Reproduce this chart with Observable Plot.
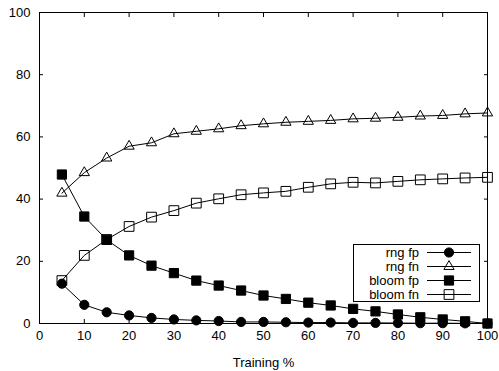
<!DOCTYPE html>
<html><head><meta charset="utf-8">
<script src="https://cdn.jsdelivr.net/npm/d3@7"></script>
<script src="https://cdn.jsdelivr.net/npm/@observablehq/plot@0.6"></script>
<style>
body{margin:0;background:#fff}
#chart{position:relative;width:499px;height:371px}
</style>
</head><body><div id="chart"></div>
<script>
const training = [5,10,15,20,25,30,35,40,45,50,55,60,65,70,75,80,85,90,95,100];
const rngFp   = [12.8,6.0,3.6,2.6,1.8,1.3,1.0,0.8,0.5,0.5,0.4,0.3,0.3,0.2,0.2,0.15,0.1,0.1,0.05,0];
const rngFn   = [41.9,48.5,53.2,57.0,58.1,61.0,61.8,62.6,63.6,64.2,64.7,65.0,65.3,65.8,66.0,66.3,66.7,66.9,67.4,67.7];
const bloomFp = [47.9,34.4,26.9,21.9,18.6,16.2,13.8,12.2,10.6,9.0,7.9,6.7,5.8,4.7,3.9,2.9,2.0,1.3,0.7,0];
const bloomFn = [13.8,21.9,27.0,31.2,34.2,36.3,38.7,40.1,41.4,42.0,42.5,43.8,44.9,45.4,45.2,45.7,46.2,46.5,46.8,47.0];
const seriesNames = ["rng fp","rng fn","bloom fp","bloom fn"];
const xTicks = [0,10,20,30,40,50,60,70,80,90,100];
const yTicks = [0,20,40,60,80,100];
const xLabel = "Training %";

const FONT = "'Liberation Sans', Arial, Helvetica, sans-serif";
const styles = [
  {symbol:"circle",   r:4.6, fill:"black", stroke:"black"},
  {symbol:"triangle", r:3.8, fill:"none",  stroke:"black"},
  {symbol:"square",   r:5.2, fill:"black", stroke:"black"},
  {symbol:"square",   r:5.5, fill:"none",  stroke:"black"}
];
const allSeries = [rngFp, rngFn, bloomFp, bloomFn];
const rows = allSeries.map((vals, i) => training.map((x, j) => ({x, y: vals[j], series: seriesNames[i]})));

const marks = [];
rows.forEach((data, i) => {
  const s = styles[i];
  marks.push(Plot.line(data, {x:"x", y:"y", stroke:"black", strokeWidth:1}));
  marks.push(Plot.dot(data, {x:"x", y:"y", symbol:()=>s.symbol, r:s.r, fill:s.fill, stroke:s.stroke, strokeWidth:1}));
});

const plot = Plot.plot({
  width: 499,
  height: 371,
  marginLeft: 39,
  marginRight: 12,
  marginTop: 12,
  marginBottom: 48,
  style: {fontFamily: FONT, fontSize: "13px", background: "white", color: "black"},
  x: {domain:[0,100]},
  y: {domain:[0,100]},
  symbol: {type:"identity"},
  marks: [
    Plot.axisX({ticks: xTicks, tickSize: -4, tickPadding: 11, label: xLabel, labelAnchor: "center", labelOffset: 43, labelArrow: "none"}),
    Plot.axisX({anchor:"top", ticks: xTicks, tickSize: -4, tickFormat: () => "", label: null}),
    Plot.axisY({ticks: yTicks, tickSize: -4, tickPadding: 13, label: null}),
    Plot.axisY({anchor:"right", ticks: yTicks, tickSize: -4, tickFormat: () => "", label: null}),
    ...marks,
    Plot.frame({stroke:"black", strokeWidth:1})
  ]
});
document.getElementById("chart").appendChild(plot);

// legend inside the plot area
const svg = d3.select(plot);
const lg = svg.append("g").attr("transform", "translate(353,244)")
  .attr("font-family", FONT).attr("font-size", "13px");
lg.append("rect").attr("x", 0.5).attr("y", 0.5).attr("width", 126).attr("height", 57)
  .attr("fill", "white").attr("stroke", "black");
seriesNames.forEach((name, i) => {
  const cy = 8.5 + i * 14;
  const s = styles[i];
  lg.append("text").attr("x", 66).attr("y", cy).attr("text-anchor", "end")
    .attr("dy", "0.35em").attr("fill", "black").text(name);
  lg.append("line").attr("x1", 74).attr("x2", 118).attr("y1", cy).attr("y2", cy)
    .attr("stroke", "black").attr("stroke-width", 1);
  const sym = {circle: d3.symbolCircle, triangle: d3.symbolTriangle, square: d3.symbolSquare}[s.symbol];
  lg.append("path").attr("transform", `translate(96,${cy})`)
    .attr("d", d3.symbol(sym, s.r * s.r * Math.PI)())
    .attr("fill", s.fill).attr("stroke", s.stroke).attr("stroke-width", 1);
});
</script>
</body></html>
